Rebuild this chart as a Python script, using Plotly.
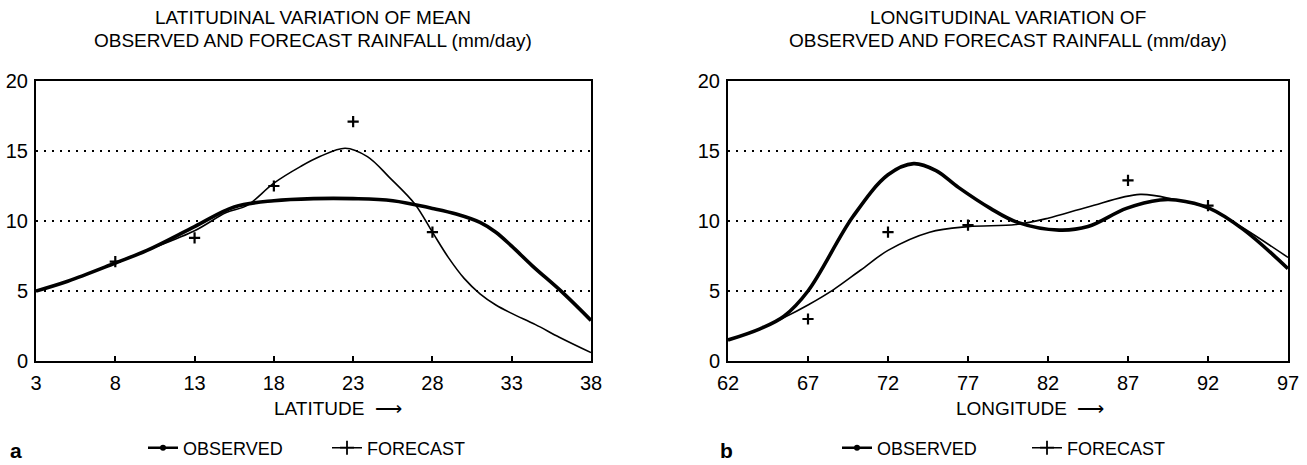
import plotly.graph_objects as go

# ---------------- data ----------------
# Panel a: latitude (deg N) vs rainfall (mm/day)
lat_obs_x = [3, 5, 8, 10, 13, 15.5, 18, 20.5, 23, 25.5, 28, 29.5, 31, 32, 33, 34.3, 36.2, 38]
lat_obs_y = [5.0, 5.7, 7.0, 7.9, 9.6, 11.0, 11.45, 11.6, 11.6, 11.45, 10.9, 10.5, 9.9, 9.2, 8.2, 6.8, 4.9, 2.9]
lat_fc_x = [3, 5, 8, 10, 13, 15, 16.3, 18, 19.7, 20.9, 22.5, 23.9, 25.3, 26.9, 28, 29, 30, 31, 32, 33, 34.5, 36, 38]
lat_fc_y = [5.0, 5.7, 7.0, 7.9, 9.3, 10.6, 11.1, 12.7, 13.9, 14.6, 15.2, 14.6, 13.1, 11.2, 9.2, 7.4, 5.9, 4.8, 4.0, 3.4, 2.6, 1.7, 0.6]
lat_pts_x = [8, 13, 18, 23, 28]
lat_pts_y = [7.1, 8.8, 12.5, 17.1, 9.2]

# Panel b: longitude (deg E) vs rainfall (mm/day)
lon_obs_x = [62, 64, 65.5, 67, 69.8, 72, 73.6, 75, 76.4, 78.4, 80.1, 82.7, 84.5, 86.9, 89, 90, 92.1, 94.2, 97]
lon_obs_y = [1.5, 2.3, 3.2, 5.0, 10.3, 13.3, 14.1, 13.6, 12.4, 10.9, 9.9, 9.35, 9.6, 10.9, 11.5, 11.5, 10.9, 9.4, 6.6]
lon_fc_x = [62, 64, 65.5, 67, 68.6, 70.3, 72, 74.6, 77, 80, 82, 84.5, 87.75, 90, 92.1, 94.2, 97]
lon_fc_y = [1.5, 2.3, 3.1, 4.0, 5.1, 6.5, 7.9, 9.2, 9.6, 9.75, 10.2, 11.0, 11.9, 11.5, 10.9, 9.5, 7.4]
lon_pts_x = [67, 72, 77, 87, 92]
lon_pts_y = [3.0, 9.2, 9.7, 12.9, 11.1]

lat_ticks = [3, 8, 13, 18, 23, 28, 33, 38]
lon_ticks = [62, 67, 72, 77, 82, 87, 92, 97]
y_ticks = [0, 5, 10, 15, 20]

FONT = "Liberation Sans, Arial, Helvetica, sans-serif"
W, H = 1307, 465


def px_x(p):
    return p / W


def px_y(p):
    return 1 - p / H


fig = go.Figure()

thick = dict(color="black", width=3.6, shape="spline", smoothing=1.0)
thin = dict(color="black", width=1.6, shape="spline", smoothing=1.0)

for (xa, ya, ox, oy, fx, fy, qx, qy, lg) in [
    ("x", "y", lat_obs_x, lat_obs_y, lat_fc_x, lat_fc_y, lat_pts_x, lat_pts_y, "legend"),
    ("x2", "y2", lon_obs_x, lon_obs_y, lon_fc_x, lon_fc_y, lon_pts_x, lon_pts_y, "legend2"),
]:
    fig.add_trace(go.Scatter(x=fx, y=fy, mode="lines", line=thin, xaxis=xa, yaxis=ya,
                             showlegend=False, hoverinfo="skip"))
    fig.add_trace(go.Scatter(x=ox, y=oy, mode="lines", line=thick, xaxis=xa, yaxis=ya,
                             showlegend=False, hoverinfo="skip"))
    fig.add_trace(go.Scatter(x=qx, y=qy, mode="markers", xaxis=xa, yaxis=ya,
                             marker=dict(symbol="cross-thin", size=8, color="black",
                                         line=dict(color="black", width=2.2)),
                             showlegend=False, hoverinfo="skip"))
    # legend entries
    fig.add_trace(go.Scatter(x=[None], y=[None], mode="lines+markers", name="OBSERVED",
                             xaxis=xa, yaxis=ya, legend=lg,
                             line=dict(color="black", width=2.5),
                             marker=dict(symbol="circle", size=6, color="black")))
    fig.add_trace(go.Scatter(x=[None], y=[None], mode="lines+markers", name="FORECAST",
                             xaxis=xa, yaxis=ya, legend=lg,
                             line=dict(color="black", width=1.5),
                             marker=dict(symbol="cross-thin", size=10, color="black",
                                         line=dict(color="black", width=1.8))))

xcommon = dict(showgrid=False, zeroline=False, showline=True, linecolor="black", linewidth=2,
               mirror=True, ticks="inside", ticklen=5, tickwidth=1.5, tickcolor="black",
               tickfont=dict(family=FONT, size=20, color="black"), ticklabelstandoff=3,
               automargin=False)
ycommon = dict(range=[0, 20], tickvals=y_ticks, showgrid=True, gridcolor="black", gridwidth=1.6,
               griddash="2px,6px", zeroline=False, showline=True, linecolor="black", linewidth=2,
               mirror=True, ticks="", tickfont=dict(family=FONT, size=20, color="black"),
               ticklabelstandoff=2, automargin=False)

ydom = [px_y(361), px_y(81)]
fig.update_layout(
    width=W, height=H, margin=dict(l=0, r=0, t=0, b=0, autoexpand=False),
    paper_bgcolor="white", plot_bgcolor="white",
    xaxis=dict(domain=[px_x(36), px_x(591)], range=[3, 38], tickvals=lat_ticks, anchor="y", **xcommon),
    yaxis=dict(domain=ydom, anchor="x", **ycommon),
    xaxis2=dict(domain=[px_x(728), px_x(1288)], range=[62, 97], tickvals=lon_ticks, anchor="y2", **xcommon),
    yaxis2=dict(domain=ydom, anchor="x2", **ycommon),
    legend=dict(orientation="h", x=px_x(143), y=px_y(448), xanchor="left", yanchor="middle",
                font=dict(family=FONT, size=18, color="black"), bgcolor="rgba(0,0,0,0)",
                entrywidth=139, entrywidthmode="pixels", itemwidth=30),
    legend2=dict(orientation="h", x=px_x(837), y=px_y(448), xanchor="left", yanchor="middle",
                 font=dict(family=FONT, size=18, color="black"), bgcolor="rgba(0,0,0,0)",
                 entrywidth=145, entrywidthmode="pixels", itemwidth=30),
    showlegend=True,
)

ann_font = dict(family=FONT, size=19, color="black")
annotations = [
    dict(text="LATITUDINAL VARIATION OF MEAN", x=px_x(313), y=px_y(17)),
    dict(text="OBSERVED AND FORECAST RAINFALL (mm/day)", x=px_x(313), y=px_y(40)),
    dict(text="LONGITUDINAL VARIATION OF", x=px_x(1008), y=px_y(17)),
    dict(text="OBSERVED AND FORECAST RAINFALL (mm/day)", x=px_x(1008), y=px_y(40)),
    dict(text="LATITUDE  ⟶", x=px_x(338), y=px_y(408)),
    dict(text="LONGITUDE  ⟶", x=px_x(1030), y=px_y(408)),
]
for a in annotations:
    fig.add_annotation(xref="paper", yref="paper", showarrow=False, font=ann_font,
                       xanchor="center", yanchor="middle", **a)
fig.add_annotation(text="<b>a</b>", xref="paper", yref="paper", x=px_x(8), y=px_y(450),
                   xanchor="left", yanchor="middle", showarrow=False,
                   font=dict(family=FONT, size=21, color="black"))
fig.add_annotation(text="<b>b</b>", xref="paper", yref="paper", x=px_x(718), y=px_y(450),
                   xanchor="left", yanchor="middle", showarrow=False,
                   font=dict(family=FONT, size=21, color="black"))

fig.write_html("out.html", config={"displayModeBar": False},
               post_script="document.body.style.margin='0px';document.body.style.overflow='hidden';")
